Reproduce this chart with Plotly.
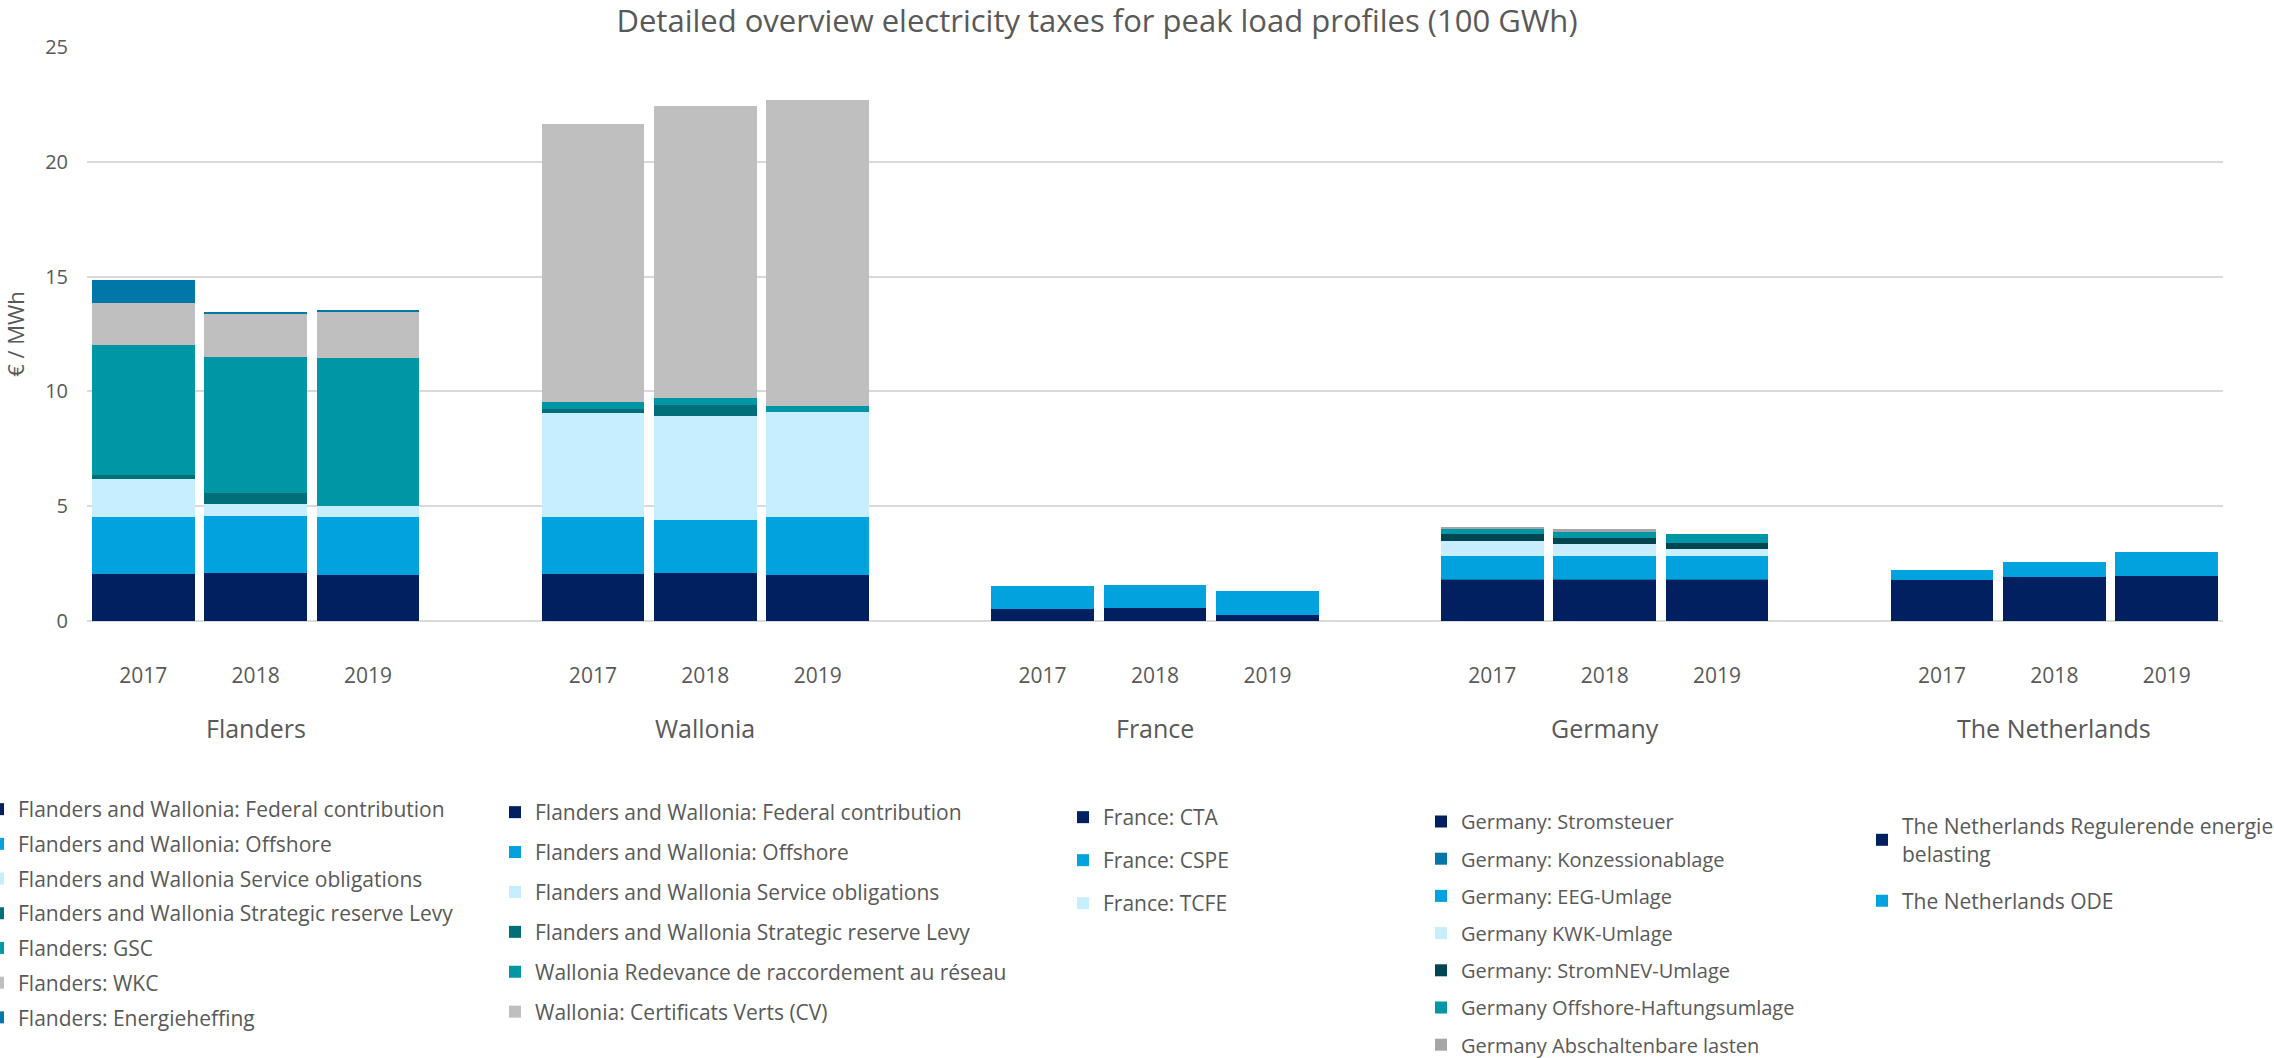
import plotly.graph_objects as go

years = ["2017", "2018", "2019"]
countries = ["Flanders", "Wallonia", "France", "Germany", "The Netherlands"]

# Flanders
fl_names = ["Flanders and Wallonia: Federal contribution", "Flanders and Wallonia: Offshore",
            "Flanders and Wallonia Service obligations", "Flanders and Wallonia Strategic reserve Levy",
            "Flanders: GSC", "Flanders: WKC", "Flanders: Energieheffing"]
fl_federal = [2.04, 2.10, 2.01]
fl_offshore = [2.49, 2.48, 2.52]
fl_service = [1.64, 0.51, 0.46]
fl_strategic = [0.21, 0.49, 0.0]
fl_gsc = [5.62, 5.91, 6.46]
fl_wkc = [1.86, 1.89, 2.00]
fl_energie = [1.01, 0.09, 0.10]

# Wallonia
wa_names = ["Flanders and Wallonia: Federal contribution", "Flanders and Wallonia: Offshore",
            "Flanders and Wallonia Service obligations", "Flanders and Wallonia Strategic reserve Levy",
            "Wallonia Redevance de raccordement au réseau", "Wallonia: Certificats Verts (CV)"]
wa_federal = [2.05, 2.10, 2.00]
wa_offshore = [2.50, 2.32, 2.52]
wa_service = [4.50, 4.52, 4.58]
wa_strategic = [0.19, 0.48, 0.0]
wa_redevance = [0.29, 0.31, 0.28]
wa_cv = [12.13, 12.70, 13.31]

# France
fr_names = ["France: CTA", "France: CSPE", "France: TCFE"]
fr_cta = [0.54, 0.58, 0.28]
fr_cspe = [1.00, 0.99, 1.01]
fr_tcfe = [0.0, 0.0, 0.0]

# Germany
de_names = ["Germany: Stromsteuer", "Germany: Konzessionablage", "Germany: EEG-Umlage",
            "Germany KWK-Umlage", "Germany: StromNEV-Umlage", "Germany Offshore-Haftungsumlage",
            "Germany Abschaltenbare lasten"]
de_strom = [1.81, 1.81, 1.81]
de_konz = [0.02, 0.02, 0.02]
de_eeg = [0.98, 0.98, 0.98]
de_kwk = [0.67, 0.54, 0.32]
de_nev = [0.30, 0.27, 0.28]
de_offshore = [0.26, 0.25, 0.36]
de_absch = [0.06, 0.13, 0.0]

# Netherlands
nl_names = ["The Netherlands Regulerende energie<br>belasting", "The Netherlands ODE"]
nl_reg = [1.78, 1.93, 1.96]
nl_ode = [0.45, 0.66, 1.03]

NAVY = "#002060"
OFF = "#02A2DF"
LIGHT = "#C6EEFE"
STRAT = "#006F7A"
TEAL = "#0096A6"
GRAY = "#BFBFBF"
MID = "#0077A8"
DARKTEAL = "#00454F"
DGRAY = "#A6A6A6"

groups = [
    ("legend", fl_names, [fl_federal, fl_offshore, fl_service, fl_strategic, fl_gsc, fl_wkc, fl_energie],
     [NAVY, OFF, LIGHT, STRAT, TEAL, GRAY, MID]),
    ("legend2", wa_names, [wa_federal, wa_offshore, wa_service, wa_strategic, wa_redevance, wa_cv],
     [NAVY, OFF, LIGHT, STRAT, TEAL, GRAY]),
    ("legend3", fr_names, [fr_cta, fr_cspe, fr_tcfe], [NAVY, OFF, LIGHT]),
    ("legend4", de_names, [de_strom, de_konz, de_eeg, de_kwk, de_nev, de_offshore, de_absch],
     [NAVY, MID, OFF, LIGHT, DARKTEAL, TEAL, DGRAY]),
    ("legend5", nl_names, [nl_reg, nl_ode], [NAVY, OFF]),
]

fig = go.Figure()
tickvals, ticktext = [], []
for g, (leg, names, series, colors) in enumerate(groups):
    xs = [4 * g + i for i in range(len(years))]
    tickvals += xs
    ticktext += years
    for k, (name, vals, col) in enumerate(zip(names, series, colors)):
        fig.add_trace(go.Bar(
            x=xs, y=vals, name=name, marker=dict(color=col, line=dict(width=0)),
            legend=leg, legendgroup=f"{leg}_{k}",
        ))

TXT = "#595959"
FONT = "Open Sans"
W, H = 2274, 1058
ml, mr, mt, mb = 87, 51, 47, 437
pw = W - ml - mr
ph = H - mt - mb

def px_x(px):
    return (px - ml) / pw

def px_y(py):
    return (H - mb - py) / ph

legend_common = dict(orientation="v", xanchor="left", yanchor="top", traceorder="grouped",
                     font=dict(family=FONT, size=21, color=TXT), bgcolor="rgba(0,0,0,0)",
                     itemwidth=30, itemclick=False, itemdoubleclick=False)
legend_small = dict(legend_common, font=dict(family=FONT, size=20, color=TXT))

fig.update_layout(
    width=W, height=H,
    margin=dict(l=ml, r=mr, t=mt, b=mb, autoexpand=False),
    barmode="stack", bargap=0.086,
    paper_bgcolor="white", plot_bgcolor="white",
    font=dict(family=FONT, color=TXT),
    title=dict(text="Detailed overview electricity taxes for peak load profiles (100 GWh)",
               x=1097 / W, xref="container", xanchor="center",
               y=1 - 21 / H, yref="container", yanchor="middle",
               font=dict(family=FONT, size=31, color=TXT)),
    xaxis=dict(range=[-0.5, 18.5], tickmode="array", tickvals=tickvals, ticktext=ticktext,
               showgrid=False, zeroline=False, showline=False, ticks="",
               tickfont=dict(family=FONT, size=21, color=TXT), ticklabelstandoff=40),
    yaxis=dict(range=[0, 25], dtick=5, showgrid=True, gridcolor="#D9D9D9", gridwidth=1.5,
               zeroline=True, zerolinecolor="#D9D9D9", zerolinewidth=1.5,
               showline=False, ticks="", tickfont=dict(family=FONT, size=20, color=TXT),
               ticklabelstandoff=18,
               title=dict(text="€ / MWh", font=dict(family=FONT, size=22, color=TXT), standoff=14)),
    legend=dict(legend_common, x=px_x(-22), y=px_y(789), tracegroupgap=4.4),
    legend2=dict(legend_common, x=px_x(495), y=px_y(792), tracegroupgap=9.6),
    legend3=dict(legend_common, x=px_x(1063), y=px_y(797), tracegroupgap=12.7),
    legend4=dict(legend_small, x=px_x(1421), y=px_y(802), tracegroupgap=8.2),
    legend5=dict(legend_common, x=px_x(1862), y=px_y(806), tracegroupgap=17),
    showlegend=True,
)

for g, c in enumerate(countries):
    fig.add_annotation(x=4 * g + 1, y=px_y(728), xref="x", yref="paper", text=c,
                       showarrow=False, xanchor="center", yanchor="middle",
                       font=dict(family=FONT, size=25, color=TXT))

fig.write_html("out.html", config={"displayModeBar": False},
               post_script="document.body.style.margin='0px';document.body.style.overflow='hidden';")
